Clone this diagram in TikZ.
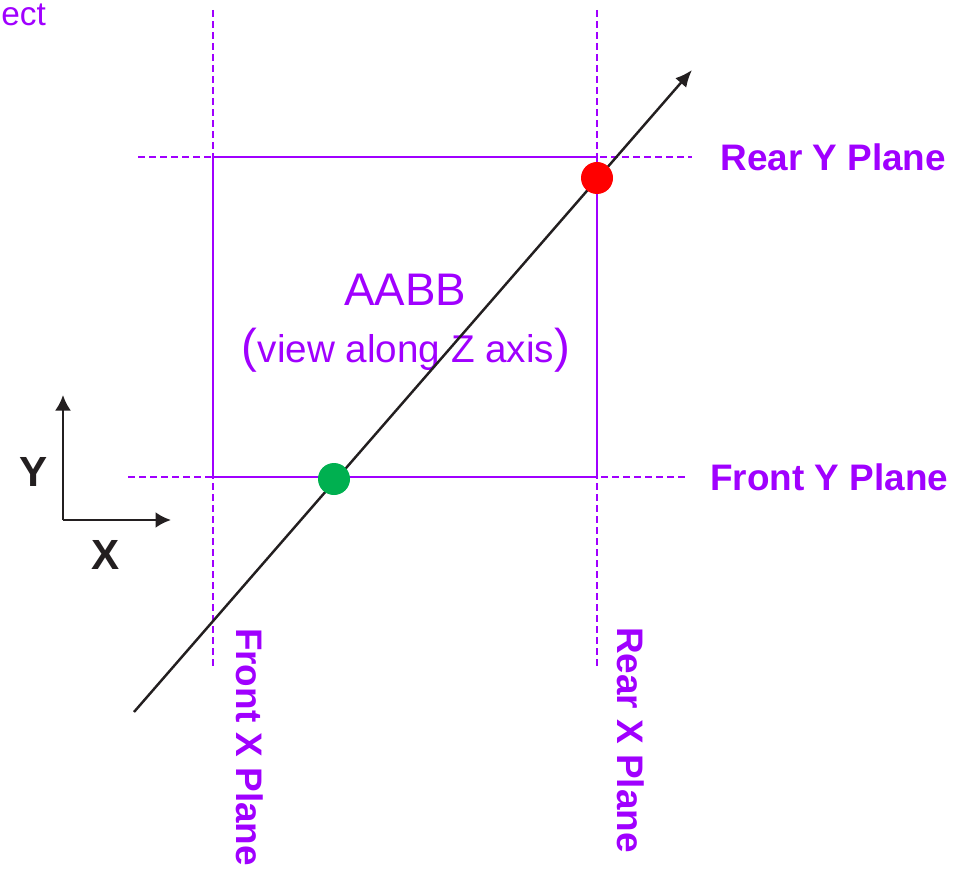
\documentclass[tikz,border=0pt]{standalone}
\usepackage{fontspec}
\setmainfont{Liberation Sans}
\usetikzlibrary{arrows.meta,positioning}
\definecolor{Ink}{HTML}{231F20}
\definecolor{BoxEdge}{HTML}{A000FF}
\definecolor{NearFill}{HTML}{00B050}
\definecolor{FarFill}{HTML}{FF0000}
\tikzset{
  ray/.style={-{Latex[length=3.4mm,width=2.9mm]}, draw=Ink, line width=1.4pt},
  axis/.style={-{Latex[length=3.1mm,width=3.2mm]}, draw=Ink, line width=1.5pt},
  plane/.style={draw=BoxEdge, line width=1.2pt, dash pattern=on 1.4mm off 0.8mm},
  boxedge/.style={draw=BoxEdge, line width=1.5pt},
  hit/.style={circle, inner sep=0pt, minimum size=6.4mm},
  planelabel/.style={text=BoxEdge, font=\bfseries\fontsize{21}{24}\selectfont, inner sep=0pt},
  boxtitle/.style={text=BoxEdge, font=\fontsize{26}{30}\selectfont, inner sep=0pt},
  boxnote/.style={text=BoxEdge, font=\fontsize{22}{26}\selectfont, inner sep=0pt},
  axislabel/.style={text=Ink, font=\bfseries\fontsize{24}{28}\selectfont, inner sep=0pt},
}

\begin{document}
\begin{tikzpicture}[x=0.2mm, y=-0.2mm]
  \useasboundingbox (0,0) rectangle (963,869);

  % Plane lines run past the box on both sides.
  \coordinate (frontxtop) at (213,10);
  \coordinate (frontxend) at (213,668);
  \coordinate (rearxtop) at (597,10);
  \coordinate (rearxend) at (597,668);
  \coordinate (rearystart) at (138,157);
  \coordinate (rearyend) at (692,157);
  \coordinate (frontystart) at (128,477);
  \coordinate (frontyend) at (685,477);
  \draw[plane] (frontxtop) -- (frontxend);
  \draw[plane] (rearxtop) -- (rearxend);
  \draw[plane] (rearystart) -- (rearyend);
  \draw[plane] (frontystart) -- (frontyend);
  \draw[boxedge] (213,157) rectangle (597,477);

  % Box caption and plane names.
  \node[boxtitle, anchor=base] (title) at (405,306) {AABB};
  \node[boxnote, anchor=base] (note) at (406,362)
    {{\fontsize{27}{30}\selectfont(}view along Z axis{\fontsize{27}{30}\selectfont)}};
  \node[planelabel, anchor=west, right=5.6mm of rearyend] (rearylabel) {Rear Y Plane};
  \node[planelabel, anchor=west, right=5mm of frontyend] (frontylabel) {Front Y Plane};
  \node[planelabel, rotate=-90] (frontxlabel) at (250,747) {Front X Plane};
  \node[planelabel, rotate=-90] (rearxlabel) at (631,740) {Rear X Plane};
  \node[text=BoxEdge, font=\fontsize{19}{22}\selectfont, inner sep=0pt, anchor=base west]
    (cut) at (1,26) {ect};

  % Ray and its two hits.
  \coordinate (raystart) at (134,712);
  \coordinate (rayend) at (692,70);
  \draw[ray] (raystart) -- (rayend);
  \node[hit, fill=NearFill] (nearhit) at (334,479) {};
  \node[hit, fill=FarFill] (farhit) at (597,178) {};

  % Small axis key.
  \coordinate (origin) at (63,520);
  \coordinate (ytip) at (63,395);
  \coordinate (xtip) at (171,520);
  \draw[axis] (origin) -- (ytip);
  \draw[axis] (origin) -- (xtip);
  \node[axislabel] (ylabel) at (34,472) {Y};
  \node[axislabel] (xlabel) at (106,555) {X};
\end{tikzpicture}
\end{document}
